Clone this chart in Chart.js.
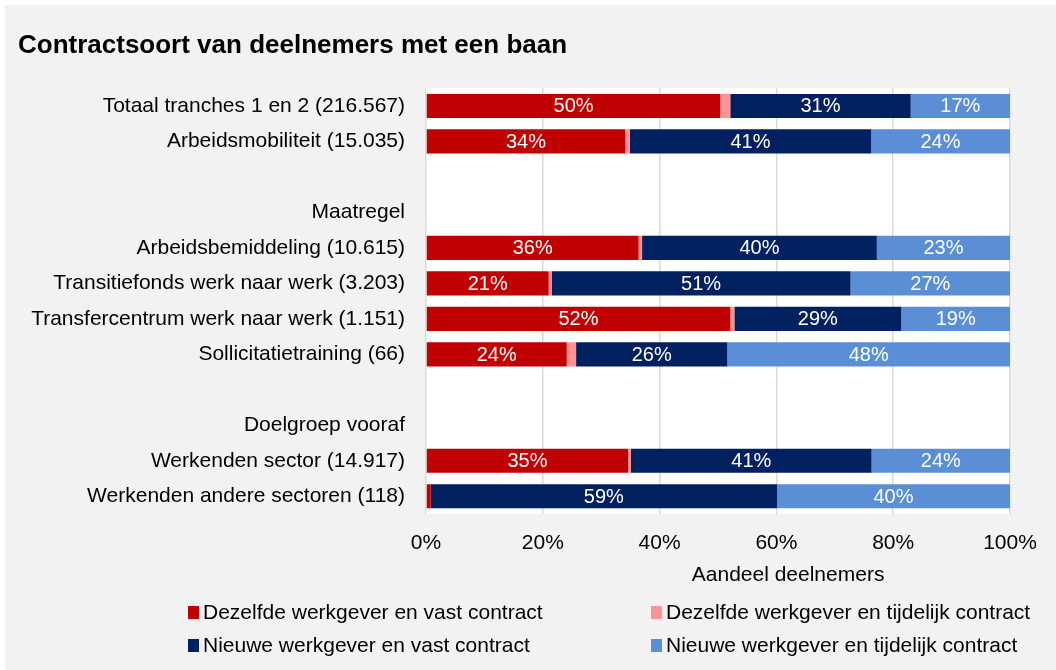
<!DOCTYPE html>
<html>
<head>
<meta charset="utf-8">
<script src="https://cdn.jsdelivr.net/npm/chart.js@4.4.1/dist/chart.umd.min.js"></script>
<style>
  body { margin: 0; background: #fff; }
  #wrap { position: relative; width: 1056px; height: 670px; overflow: hidden; }
  #bg { position: absolute; left: 5px; top: 5px; right: 0; bottom: 0; background: #f2f2f2; }
  canvas { position: absolute; left: 0; top: 0; }
  .leg { position: absolute; font: 21px "Liberation Sans", Arial, sans-serif; color: #000; white-space: nowrap; line-height: 24px; }
  .leg i { position: absolute; left: 0; top: 6px; width: 11px; height: 13px; }
  .leg span { position: absolute; left: 15px; top: 0; }
</style>
</head>
<body>
<div id="wrap">
  <div id="bg"></div>
  <canvas id="myChart" width="1056" height="670"></canvas>
  <div id="legend"></div>
</div>
<script>
const categorieen = [
    'Totaal tranches 1 en 2 (216.567)',
    'Arbeidsmobiliteit (15.035)',
    '',
    'Maatregel',
    'Arbeidsbemiddeling (10.615)',
    'Transitiefonds werk naar werk (3.203)',
    'Transfercentrum werk naar werk (1.151)',
    'Sollicitatietraining (66)',
    '',
    'Doelgroep vooraf',
    'Werkenden sector (14.917)',
    'Werkenden andere sectoren (118)'
];

const reeksNamen = [
    'Dezelfde werkgever en vast contract',
    'Dezelfde werkgever en tijdelijk contract',
    'Nieuwe werkgever en vast contract',
    'Nieuwe werkgever en tijdelijk contract'
];

// aandelen in procenten, null voor de kopjes
const zelfdeVast      = [50.4, 34.1, null, null, 36.4, 21.0, 52.1, 24.1, null, null, 34.6, 0.8];
const zelfdeTijdelijk = [1.7,  0.8,  null, null, 0.6,  0.5,  0.7,  1.6,  null, null, 0.5,  0];
const nieuwVast       = [30.9, 41.3, null, null, 40.2, 51.2, 28.6, 25.9, null, null, 41.2, 59.3];
const nieuwTijdelijk  = [17.0, 23.8, null, null, 22.8, 27.3, 18.6, 48.4, null, null, 23.7, 39.9];

const xTicks = [0, 20, 40, 60, 80, 100];
const asTitel = 'Aandeel deelnemers';

const kleuren = ['#c00000', '#ff9393', '#002060', '#5a8fd6'];
const fontNaam = '"Liberation Sans", Arial, sans-serif';

const plotAchtergrond = {
    id: 'plotAchtergrond',
    beforeDraw(chart) {
        const { ctx, chartArea } = chart;
        ctx.save();
        ctx.fillStyle = '#fff';
        ctx.fillRect(chartArea.left, chartArea.top, chartArea.right - chartArea.left, chartArea.bottom - chartArea.top);
        ctx.restore();
    }
};

const labels = {
    id: 'labels',
    afterDatasetsDraw(chart) {
        const ctx = chart.ctx;
        ctx.save();
        ctx.fillStyle = '#fff';
        ctx.font = '20px ' + fontNaam;
        ctx.textAlign = 'center';
        ctx.textBaseline = 'middle';
        chart.data.datasets.forEach((ds, i) => {
            if (i === 1) return;
            chart.getDatasetMeta(i).data.forEach((bar, j) => {
                const v = ds.data[j];
                if (v == null || v < 5) return;
                ctx.fillText(Math.round(v) + '%', (bar.x + bar.base) / 2, bar.y + 1);
            });
        });
        ctx.restore();
    }
};

const xTitel = {
    id: 'xTitel',
    afterDraw(chart) {
        const ctx = chart.ctx;
        const x = chart.scales.x;
        ctx.save();
        ctx.fillStyle = '#000';
        ctx.font = '21px ' + fontNaam;
        ctx.textAlign = 'center';
        ctx.textBaseline = 'middle';
        ctx.fillText(asTitel, x.getPixelForValue(62), chart.chartArea.bottom + 61);
        ctx.restore();
    }
};

const series = [zelfdeVast, zelfdeTijdelijk, nieuwVast, nieuwTijdelijk];

new Chart(document.getElementById('myChart'), {
    type: 'bar',
    data: {
        labels: categorieen,
        datasets: series.map((d, i) => ({
            label: reeksNamen[i],
            data: d,
            backgroundColor: kleuren[i],
            borderWidth: 0,
            barPercentage: 0.68,
            categoryPercentage: 1
        }))
    },
    options: {
        indexAxis: 'y',
        responsive: false,
        animation: false,
        layout: { padding: { left: 18, right: 46, top: 0, bottom: 0 } },
        plugins: {
            legend: { display: false },
            tooltip: { enabled: false },
            title: {
                display: true,
                text: 'Contractsoort van deelnemers met een baan',
                align: 'start',
                color: '#000',
                font: { family: fontNaam, size: 26, weight: 'bold' },
                padding: { top: 30, bottom: 27 }
            }
        },
        scales: {
            x: {
                stacked: true,
                min: 0,
                max: 100,
                afterBuildTicks: s => { s.ticks = xTicks.map(v => ({ value: v })); },
                ticks: {
                    callback: v => v + '%',
                    color: '#000',
                    font: { family: fontNaam, size: 21 },
                    padding: 17,
                    maxRotation: 0
                },
                grid: { color: '#d9d9d9', lineWidth: 1.5, drawTicks: false },
                border: { display: false },
                afterFit: s => { s.height = 156; }
            },
            y: {
                stacked: true,
                ticks: {
                    color: '#000',
                    font: { family: fontNaam, size: 21 },
                    padding: 21,
                    autoSkip: false
                },
                grid: { display: false, drawTicks: false },
                border: { display: false },
                afterFit: s => { s.width = 408; }
            }
        }
    },
    plugins: [plotAchtergrond, labels, xTitel]
});

// legenda in twee kolommen
const legPos = [[188, 600], [651, 600], [188, 633], [651, 633]];
const legend = document.getElementById('legend');
reeksNamen.forEach((naam, i) => {
    const el = document.createElement('div');
    el.className = 'leg';
    el.style.left = legPos[i][0] + 'px';
    el.style.top = legPos[i][1] + 'px';
    el.innerHTML = `<i style="background:${kleuren[i]}"></i><span>${naam}</span>`;
    legend.appendChild(el);
});
</script>
</body>
</html>
